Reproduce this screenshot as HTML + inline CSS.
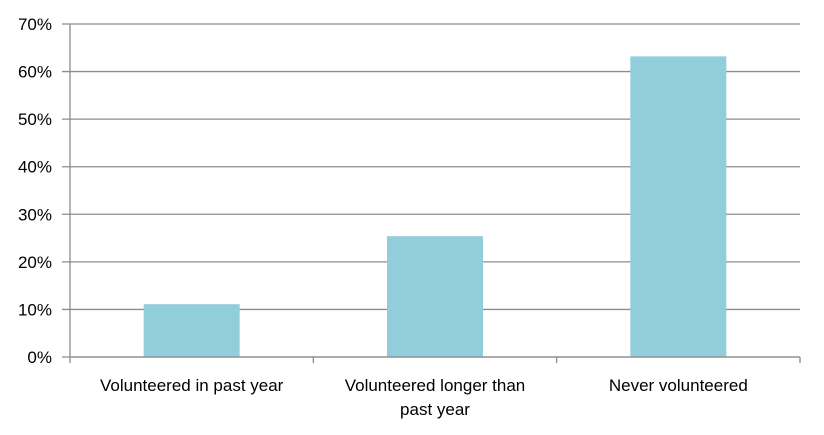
<!DOCTYPE html>
<html><head><meta charset="utf-8"><style>
html,body{margin:0;padding:0;background:#fff;}
svg{display:block;font-family:"Liberation Sans",sans-serif;}
</style></head><body>
<svg id="chart" width="824" height="435"></svg>
<script>
const categories = [["Volunteered in past year"], ["Volunteered longer than", "past year"], ["Never volunteered"]];
const values = [11.1, 25.4, 63.2];
const yTicks = [0, 10, 20, 30, 40, 50, 60, 70];
const yTickLabels = ["0%", "10%", "20%", "30%", "40%", "50%", "60%", "70%"];

const NS = "http://www.w3.org/2000/svg";
const svgEl = document.getElementById("chart");
const plotLeft = 70, plotRight = 800, plotTop = 24, plotBottom = 357, yMax = 70;
const yScale = v => plotBottom - (v / yMax) * (plotBottom - plotTop);
const band = (plotRight - plotLeft) / categories.length;
const xc = i => plotLeft + band * (i + 0.5);
const barW = 96;
function mk(tag, attrs) {
  const e = document.createElementNS(NS, tag);
  for (const k in attrs) e.setAttribute(k, attrs[k]);
  svgEl.appendChild(e);
  return e;
}
yTicks.forEach((t, i) => {
  const g = mk("line", {x1: plotLeft - 8, x2: plotRight, y1: yScale(t), y2: yScale(t), stroke: "#8c8c8c", "stroke-width": 1.3});
  
  
  const tx = mk("text", {x: 52, y: yScale(t) + 6, "text-anchor": "end", "font-size": 17, fill: "#000"});
  tx.textContent = yTickLabels[i];
  
  
});
values.forEach((v, i) => {
  const b = mk("rect", {x: xc(i) - barW / 2, y: yScale(v), width: barW, height: plotBottom - yScale(v), fill: "#92cddc"});
  
  
  categories[i].forEach((ln, j) => {
    const t = mk("text", {x: xc(i), y: 391 + j * 24, "text-anchor": "middle", "font-size": 17, fill: "#000"});
    t.textContent = ln;
    
    
  });
});
for (let i = 0; i <= categories.length; i++) {
  const tk = mk("line", {x1: plotLeft + band * i, x2: plotLeft + band * i, y1: plotBottom, y2: plotBottom + 6, stroke: "#8c8c8c", "stroke-width": 1.3});
  
  
}
const ya = mk("line", {x1: plotLeft, x2: plotLeft, y1: plotTop, y2: plotBottom, stroke: "#8c8c8c", "stroke-width": 1.3});


const xa = mk("line", {x1: plotLeft, x2: plotRight, y1: plotBottom, y2: plotBottom, stroke: "#8c8c8c", "stroke-width": 1.3});


</script>
</body></html>
